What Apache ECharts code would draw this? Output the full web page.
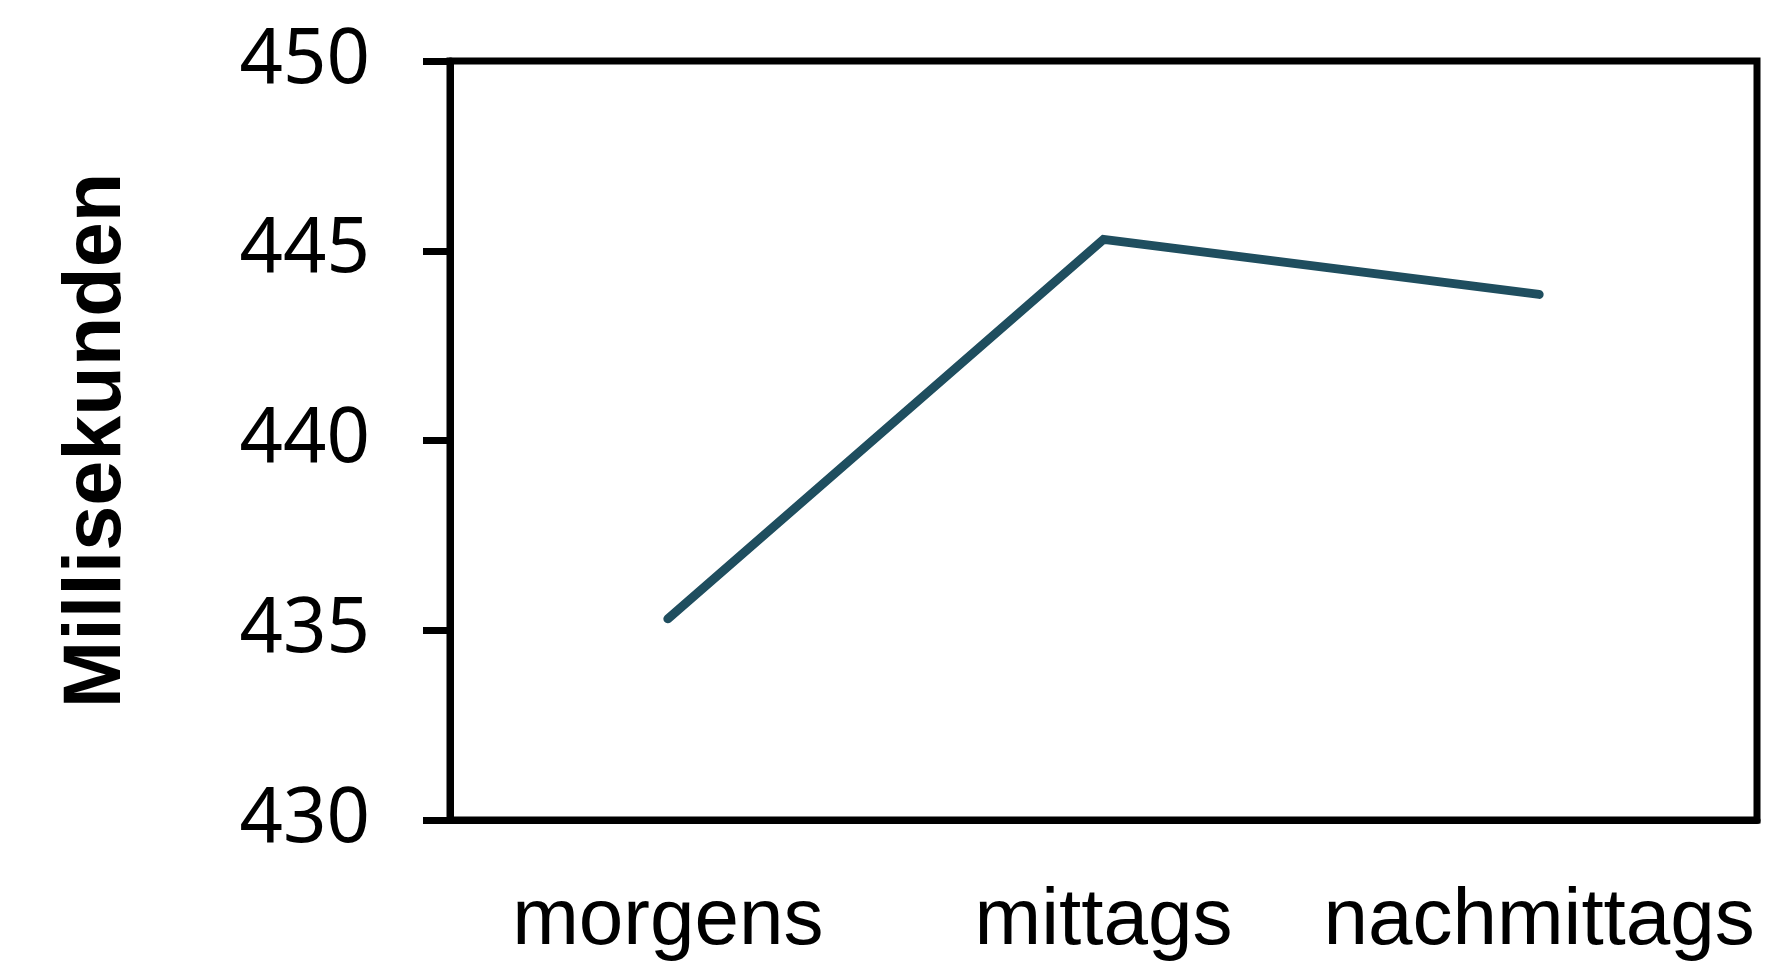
<!DOCTYPE html>
<html>
<head>
<meta charset="utf-8">
<script src="https://cdn.jsdelivr.net/npm/echarts@6/dist/echarts.min.js"></script>
<style>
html,body{margin:0;padding:0;background:#fff;}
#chart{width:1773px;height:962px;}
</style>
</head>
<body>
<div id="chart"></div>
<script>
const categories = ['morgens', 'mittags', 'nachmittags'];
const values = [435.3, 445.3, 443.85];
const yTicks = [430, 435, 440, 445, 450];
const yName = 'Millisekunden';

const chart = echarts.init(document.getElementById('chart'), null, {renderer: 'canvas'});
chart.setOption({
  animation: false,
  backgroundColor: '#ffffff',
  grid: {
    left: 450, right: 16, top: 61, bottom: 135,
    show: true, borderColor: '#000', borderWidth: 7, containLabel: false
  },
  xAxis: {
    type: 'category',
    data: categories,
    boundaryGap: true,
    axisLine: {show: true, lineStyle: {color: '#000', width: 7}},
    axisTick: {show: false},
    axisLabel: {
      color: '#000', fontFamily: 'Liberation Sans, Arial, sans-serif',
      fontSize: 80, margin: 62, interval: 0
    },
    splitLine: {show: false}
  },
  yAxis: {
    type: 'value',
    min: yTicks[0],
    max: yTicks[yTicks.length - 1],
    interval: 5,
    name: yName,
    nameLocation: 'middle',
    nameGap: 312,
    nameTextStyle: {
      color: '#000', fontFamily: 'Liberation Sans, Arial, sans-serif',
      fontSize: 81, fontWeight: 'bold'
    },
    axisLine: {show: true, lineStyle: {color: '#000', width: 7}},
    axisTick: {show: true, inside: false, length: 27, lineStyle: {color: '#000', width: 7}},
    axisLabel: {
      color: '#000', fontFamily: 'Noto Sans, Open Sans, sans-serif',
      fontSize: 76, margin: 80
    },
    splitLine: {show: false}
  },
  series: [{
    type: 'line',
    data: values,
    symbol: 'none',
    lineStyle: {color: '#1f4e5f', width: 9, cap: 'round', join: 'miter'}
  }]
});
</script>
</body>
</html>
